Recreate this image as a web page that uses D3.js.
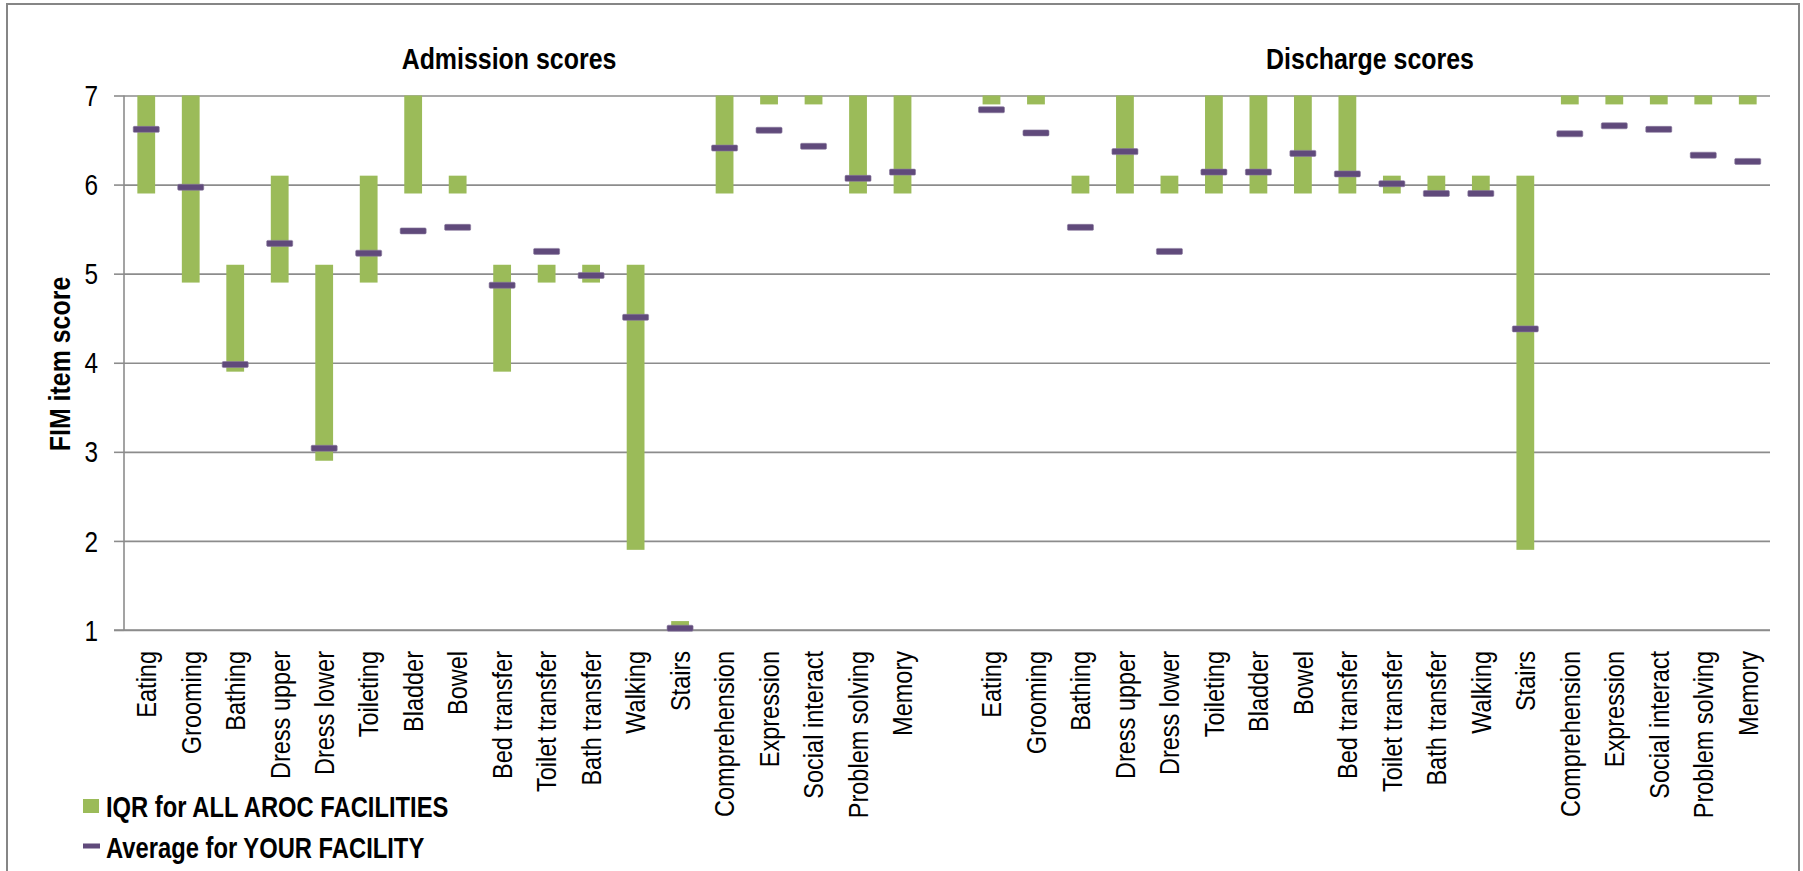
<!DOCTYPE html>
<html>
<head>
<meta charset="utf-8">
<script src="https://cdn.jsdelivr.net/npm/d3@7"></script>
<style>
  html, body { margin: 0; padding: 0; background: #fff; }
  svg { display: block; font-family: "Liberation Sans", Arial, sans-serif; }
</style>
</head>
<body>
<svg id="chart" width="1803" height="871"></svg>
<script>
// ---- data ----
const categories = ["Eating","Grooming","Bathing","Dress upper","Dress lower","Toileting","Bladder","Bowel","Bed transfer","Toilet transfer","Bath transfer","Walking","Stairs","Comprehension","Expression","Social interact","Problem solving","Memory"];

const admissionIqrLow  = [5.9,4.9,3.9,4.9,2.9,4.9,5.9,5.9,3.9,4.9,4.9,1.9,1.0,5.9,6.9,6.9,5.9,5.9];
const admissionIqrHigh = [7,  7,  5.1,6.1,5.1,6.1,7,  6.1,5.1,5.1,5.1,5.1,1.1,7,  7,  7,  7,  7  ];
const admissionAvg     = [6.62,5.97,3.98,5.34,3.04,5.23,5.48,5.52,4.87,5.25,4.98,4.51,1.02,6.41,6.61,6.43,6.07,6.14];

const dischargeIqrLow  = [6.9,6.9,5.9,5.9,5.9,5.9,5.9,5.9,5.9,5.9,5.9,5.9,1.9,6.9,6.9,6.9,6.9,6.9];
const dischargeIqrHigh = [7,  7,  6.1,7,  6.1,7,  7,  7,  7,  6.1,6.1,6.1,6.1,7,  7,  7,  7,  7  ];
const dischargeAvg     = [6.84,6.58,5.52,6.37,5.25,6.14,6.14,6.35,6.12,6.01,5.90,5.90,4.38,6.57,6.66,6.62,6.33,6.26];

const yTicks = [1,2,3,4,5,6,7];
const panelTitles = ["Admission scores","Discharge scores"];
const legendLabels = ["IQR for ALL AROC FACILITIES","Average for YOUR FACILITY"];
const yAxisTitle = "FIM item score";

(function(){
// ---- build rows ----
const rows = [];
categories.forEach((c,i)=>rows.push({key:"A|"+c, label:c, low:admissionIqrLow[i], high:admissionIqrHigh[i], avg:admissionAvg[i]}));
rows.push({key:"gap", label:"", low:null, high:null, avg:null});
categories.forEach((c,i)=>rows.push({key:"D|"+c, label:c, low:dischargeIqrLow[i], high:dischargeIqrHigh[i], avg:dischargeAvg[i]}));
const labelOf = new Map(rows.map(r=>[r.key,r.label]));

// ---- layout ----
const GREEN = "#9BBB59", PURPLE = "#604A7B", GRID = "#8c8c8c";
const pL = 124, pR = 1770, pT = 95.5, pB = 630;
const SX = 0.84;

const svg = d3.select("#chart");

// frame
svg.append("rect").attr("x",7).attr("y",4).attr("width",1792).attr("height",920)
  .attr("fill","#fff").attr("stroke","#868686").attr("stroke-width",2);

const x = d3.scaleBand().domain(rows.map(r=>r.key)).range([pL,pR]).padding(0);
const y = d3.scaleLinear().domain([1,7]).range([pB,pT]);
const bw = x.bandwidth();

// gridlines
svg.append("g")
  .attr("transform",`translate(${pL},0)`)
  .call(d3.axisLeft(y).tickValues(yTicks).tickSize(-(pR-pL)).tickFormat(""))
  .call(g=>g.select(".domain").remove())
  .call(g=>g.selectAll("line").attr("stroke",GRID).attr("stroke-width",1.6));

// y axis with outer ticks
const yAx = svg.append("g")
  .attr("transform",`translate(${pL},0)`)
  .call(d3.axisLeft(y).tickValues(yTicks).tickSize(10).tickPadding(0).tickFormat(d3.format("d")));
yAx.select(".domain").attr("stroke",GRID).attr("stroke-width",1.6).attr("d",`M0,${pT}V${pB}`);
yAx.selectAll("line").attr("stroke",GRID).attr("stroke-width",1.6);
yAx.selectAll("text")
  .attr("font-size",29).attr("fill","#000")
  .attr("font-family","'Liberation Sans', Arial, sans-serif")
  .attr("x",-26/SX).attr("dy","0.35em")
  .attr("transform",`scale(${SX},1)`);

// x axis (labels only)
const xAx = svg.append("g")
  .attr("transform",`translate(0,${pB})`)
  .call(d3.axisBottom(x).tickSize(0).tickFormat(k=>labelOf.get(k)));
xAx.select(".domain").attr("stroke",GRID).attr("stroke-width",1.6).attr("d",`M${pL-10},0H${pR}`);
xAx.selectAll("text")
  .attr("font-size",28).attr("fill","#000")
  .attr("font-family","'Liberation Sans', Arial, sans-serif")
  .attr("text-anchor","end")
  .attr("x",-21/SX).attr("y",0).attr("dy","0.35em")
  .attr("transform",`rotate(-90) scale(${SX},1)`);

// IQR bars
const barW = bw*0.4;
svg.append("g").selectAll("rect")
  .data(rows.filter(r=>r.low!=null))
  .join("rect")
  .attr("x",d=>x(d.key)+bw/2-barW/2)
  .attr("width",barW)
  .attr("y",d=>y(d.high))
  .attr("height",d=>y(d.low)-y(d.high))
  .attr("fill",GREEN);

// average dashes
const dashW = bw*0.585, dashH = 6;
svg.append("g").selectAll("rect")
  .data(rows.filter(r=>r.avg!=null))
  .join("rect")
  .attr("x",d=>x(d.key)+bw/2-dashW/2)
  .attr("width",dashW)
  .attr("y",d=>y(d.avg)-dashH/2)
  .attr("height",dashH)
  .attr("rx",1.2)
  .attr("fill",PURPLE)
  .attr("stroke","#8a7a9e").attr("stroke-width",0.6);

// panel titles
const titleFont = 29, titleSX = 0.86;
[[509,panelTitles[0]],[1370,panelTitles[1]]].forEach(([cx,t])=>{
  svg.append("text")
    .attr("transform",`translate(${cx},69) scale(${titleSX},1)`)
    .attr("text-anchor","middle")
    .attr("font-size",titleFont).attr("font-weight","bold").attr("fill","#000")
    .text(t);
});

// y axis title
svg.append("text")
  .attr("transform",`translate(70,364) rotate(-90) scale(${titleSX},1)`)
  .attr("text-anchor","middle")
  .attr("font-size",titleFont).attr("font-weight","bold").attr("fill","#000")
  .text(yAxisTitle);

// legend
const lg = svg.append("g");
lg.append("rect").attr("x",83).attr("y",799).attr("width",16).attr("height",14).attr("fill",GREEN);
lg.append("text")
  .attr("transform",`translate(106,817) scale(0.82,1)`)
  .attr("font-size",29).attr("font-weight","bold").attr("fill","#000")
  .text(legendLabels[0]);
lg.append("rect").attr("x",83).attr("y",843.5).attr("width",17).attr("height",5).attr("fill",PURPLE);
lg.append("text")
  .attr("transform",`translate(106,858) scale(0.82,1)`)
  .attr("font-size",29).attr("font-weight","bold").attr("fill","#000")
  .text(legendLabels[1]);
})();
</script>
</body>
</html>
